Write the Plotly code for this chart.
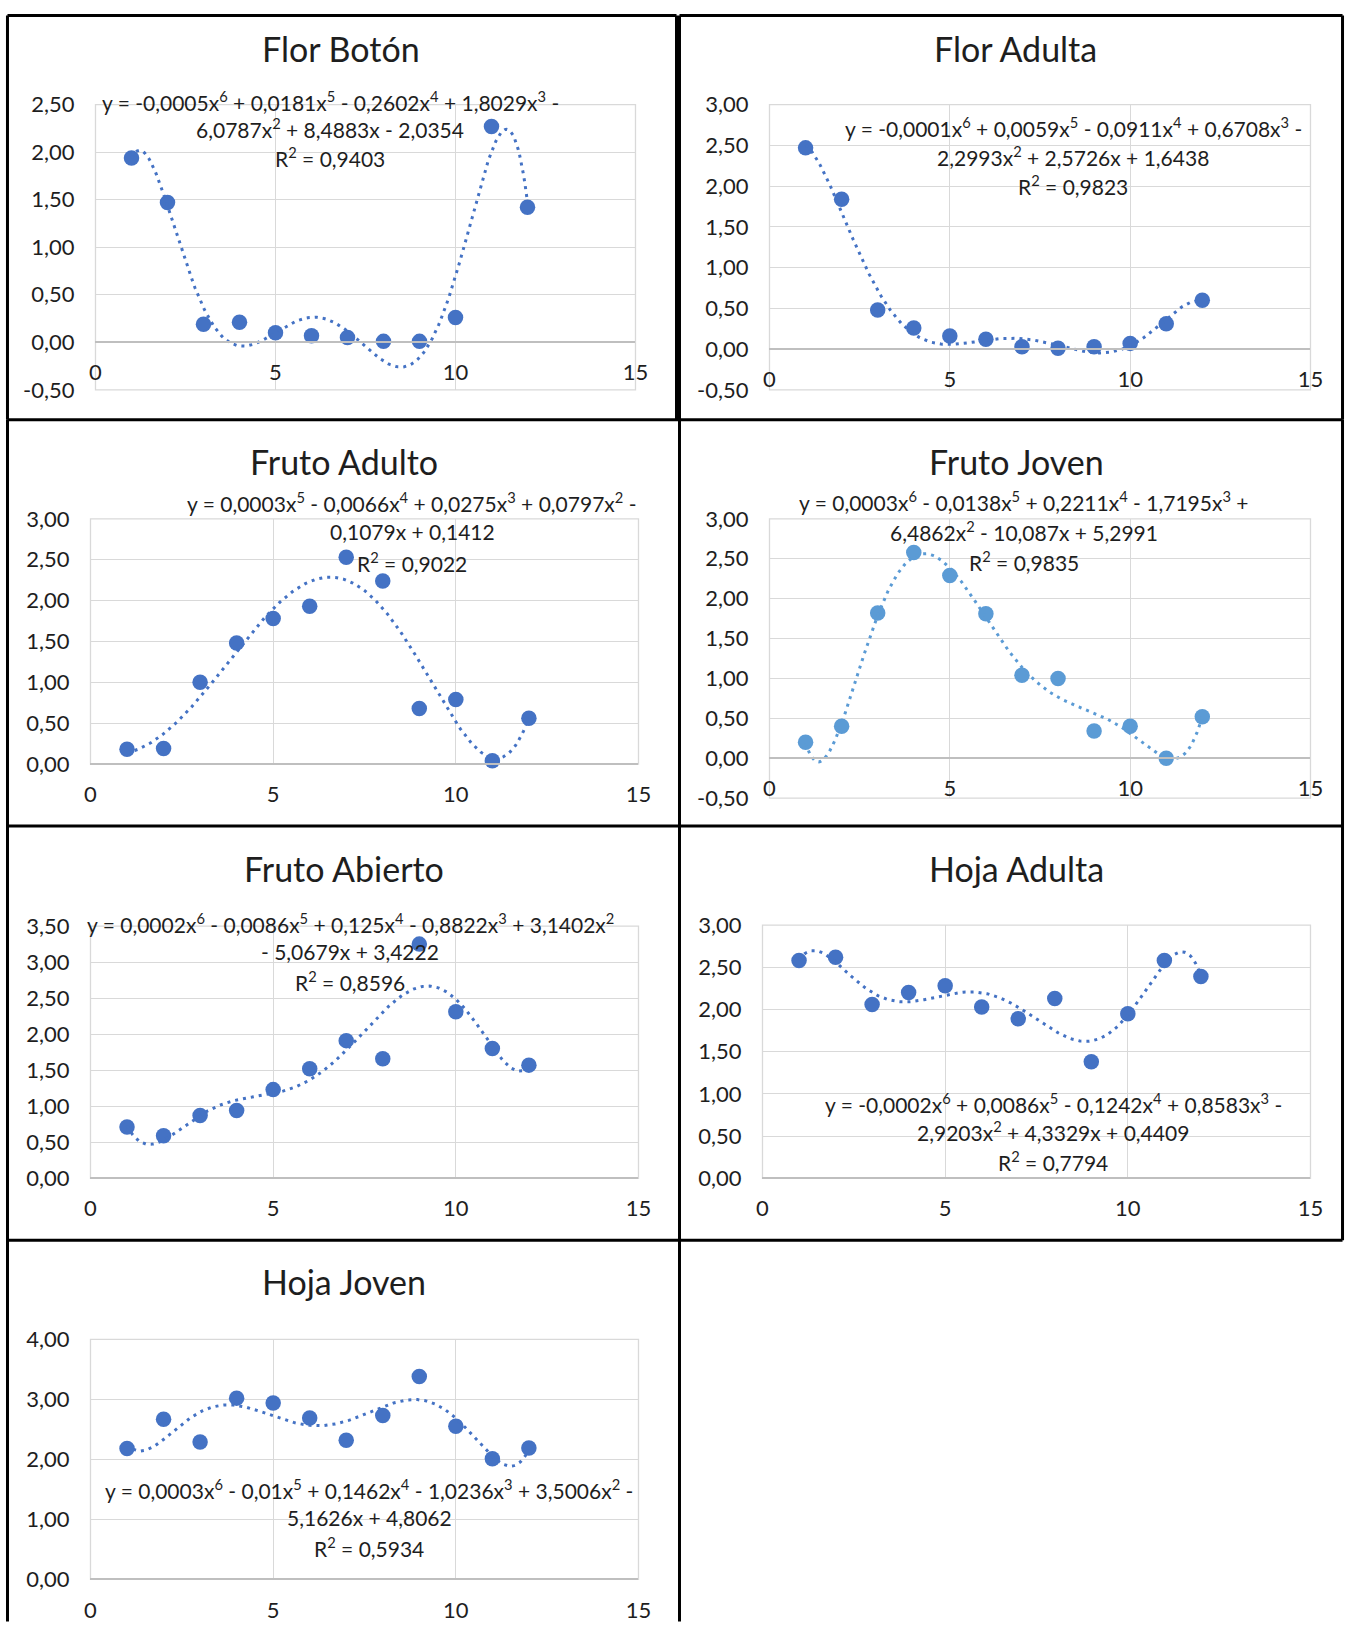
import numpy as np
import plotly.graph_objects as go

W, H = 1357, 1635
# the photographed page shows content slightly scaled and shifted;
# positions below are the wanted on-photo pixel positions and are mapped back.
SCX, SCY = 0.986, 0.983
BX, BY = 6.5, 13.35

# ---------------- data ----------------
x_vals = list(range(1, 13))

titles = ["Flor Botón", "Flor Adulta", "Fruto Adulto", "Fruto Joven",
          "Fruto Abierto", "Hoja Adulta", "Hoja Joven"]

flor_boton   = [1.94, 1.47, 0.19, 0.21, 0.10, 0.07, 0.05, 0.01, 0.01, 0.26, 2.27, 1.42]
flor_adulta  = [2.47, 1.84, 0.48, 0.26, 0.16, 0.12, 0.03, 0.01, 0.03, 0.07, 0.31, 0.60]
fruto_adulto = [0.18, 0.19, 1.00, 1.48, 1.78, 1.93, 2.53, 2.24, 0.68, 0.79, 0.04, 0.56]
fruto_joven  = [0.20, 0.40, 1.82, 2.58, 2.29, 1.81, 1.04, 1.00, 0.34, 0.40, 0.00, 0.52]
fruto_abierto = [0.71, 0.59, 0.87, 0.94, 1.23, 1.52, 1.91, 1.66, 3.25, 2.31, 1.80, 1.57]
hoja_adulta  = [2.58, 2.62, 2.06, 2.20, 2.28, 2.03, 1.89, 2.13, 1.38, 1.95, 2.58, 2.39]
hoja_joven   = [2.18, 2.67, 2.29, 3.02, 2.94, 2.69, 2.32, 2.73, 3.38, 2.55, 2.01, 2.19]

series = [flor_boton, flor_adulta, fruto_adulto, fruto_joven,
          fruto_abierto, hoja_adulta, hoja_joven]

trend_degree = [6, 6, 5, 6, 6, 6, 6]

y_min = [-0.5, -0.5, 0.0, -0.5, 0.0, 0.0, 0.0]
y_max = [2.5, 3.0, 3.0, 3.0, 3.5, 3.0, 4.0]
y_step = [0.5, 0.5, 0.5, 0.5, 0.5, 0.5, 1.0]
x_ticks = [0, 5, 10, 15]

equations = [
    ["y = -0,0005x<sup>6</sup> + 0,0181x<sup>5</sup> - 0,2602x<sup>4</sup> + 1,8029x<sup>3</sup> -",
     "6,0787x<sup>2</sup> + 8,4883x - 2,0354", "R<sup>2</sup> = 0,9403"],
    ["y = -0,0001x<sup>6</sup> + 0,0059x<sup>5</sup> - 0,0911x<sup>4</sup> + 0,6708x<sup>3</sup> -",
     "2,2993x<sup>2</sup> + 2,5726x + 1,6438", "R<sup>2</sup> = 0,9823"],
    ["y = 0,0003x<sup>5</sup> - 0,0066x<sup>4</sup> + 0,0275x<sup>3</sup> + 0,0797x<sup>2</sup> -",
     "0,1079x + 0,1412", "R<sup>2</sup> = 0,9022"],
    ["y = 0,0003x<sup>6</sup> - 0,0138x<sup>5</sup> + 0,2211x<sup>4</sup> - 1,7195x<sup>3</sup> +",
     "6,4862x<sup>2</sup> - 10,087x + 5,2991", "R<sup>2</sup> = 0,9835"],
    ["y = 0,0002x<sup>6</sup> - 0,0086x<sup>5</sup> + 0,125x<sup>4</sup> - 0,8822x<sup>3</sup> + 3,1402x<sup>2</sup>",
     "- 5,0679x + 3,4222", "R<sup>2</sup> = 0,8596"],
    ["y = -0,0002x<sup>6</sup> + 0,0086x<sup>5</sup> - 0,1242x<sup>4</sup> + 0,8583x<sup>3</sup> -",
     "2,9203x<sup>2</sup> + 4,3329x + 0,4409", "R<sup>2</sup> = 0,7794"],
    ["y = 0,0003x<sup>6</sup> - 0,01x<sup>5</sup> + 0,1462x<sup>4</sup> - 1,0236x<sup>3</sup> + 3,5006x<sup>2</sup> -",
     "5,1626x + 4,8062", "R<sup>2</sup> = 0,5934"],
]

# ---------------- layout (wanted photo pixels) ----------------
plot_x = [(96, 636), (770, 1311), (91, 639), (770, 1311), (91, 639), (763, 1311), (91, 639)]
plot_y = [(104, 389), (104, 389), (518, 763), (518, 797), (925, 1177), (924, 1177), (1338, 1578)]
title_pos = [(342, 50), (1016, 50), (345, 463), (1017, 463), (345, 870), (1017, 870), (345, 1283)]
TITLE_DY = -2.5
eq_x = [331, 1074, 413, 1025, 351, 1054, 370]
eq_y = [(104, 131, 160), (130, 159, 188), (505, 534, 564), (504, 533, 563),
        (925, 954, 983), (1105, 1133, 1163), (1491, 1520, 1549)]
EQ_DY = -3.4
colors = ["#4472C4", "#4472C4", "#4472C4", "#5B9BD5", "#4472C4", "#4472C4", "#4472C4"]

FONT = "Lato"
TXT = "#1e1e1e"


def pgx(t):
    return (t - BX) / SCX


def pgy(t):
    return (t - BY) / SCY


def fx(t):
    return pgx(t) / W


def fy(t):
    return 1 - pgy(t) / H


def bfx(t):
    return min(max(pgx(t), 1.5), W - 1.5) / W


def bfy(t):
    return 1 - min(max(pgy(t), 1.5), H - 0.5) / H


fig = go.Figure()
layout = dict(
    width=W, height=H, margin=dict(l=0, r=0, t=0, b=0),
    paper_bgcolor="white", plot_bgcolor="white", showlegend=False,
    font=dict(family=FONT, color=TXT, size=22),
)
annotations = []
shapes = []

for i in range(7):
    n = "" if i == 0 else str(i + 1)
    xa, ya = "x" + n, "y" + n
    xd = [fx(plot_x[i][0]), fx(plot_x[i][1])]
    yd = [fy(plot_y[i][1]), fy(plot_y[i][0])]
    ylo, yhi = y_min[i], y_max[i]
    nt = int(round((yhi - ylo) / y_step[i]))
    yt = [round(ylo + k * y_step[i], 2) for k in range(nt + 1)]
    ytxt = [f"{v:.2f}".replace(".", ",") for v in yt]
    zero_pos = yd[0] + (0 - ylo) / (yhi - ylo) * (yd[1] - yd[0])

    layout["xaxis" + n] = dict(
        domain=xd, range=[0, 15], anchor="free", position=zero_pos,
        tickmode="array", tickvals=x_ticks, ticktext=[str(v) for v in x_ticks],
        showgrid=True, gridcolor="#D9D9D9", gridwidth=1.3,
        zeroline=False, showline=True, linecolor="#BFBFBF", linewidth=1.5,
        ticks="", ticklabelstandoff=11,
        tickfont=dict(family=FONT, size=22, color=TXT), fixedrange=True,
    )
    layout["yaxis" + n] = dict(
        domain=yd, range=[ylo, yhi], anchor=xa,
        tickmode="array", tickvals=yt, ticktext=ytxt,
        showgrid=True, gridcolor="#D9D9D9", gridwidth=1.3,
        zeroline=False, showline=False, ticks="", ticklabelstandoff=20,
        tickfont=dict(family=FONT, size=22, color=TXT), fixedrange=True,
    )
    shapes.append(dict(type="rect", xref=xa + " domain", yref=ya + " domain",
                       x0=0, x1=1, y0=0, y1=1, line=dict(color="#D9D9D9", width=1.3),
                       layer="below"))

    ys = series[i]
    fig.add_trace(go.Scatter(
        x=x_vals, y=ys, mode="markers", xaxis=xa, yaxis=ya,
        marker=dict(size=15.5, color=colors[i]), cliponaxis=False,
    ))
    coef = np.polyfit(x_vals, ys, trend_degree[i])
    xt = np.linspace(min(x_vals), max(x_vals), 300)
    fig.add_trace(go.Scatter(
        x=xt, y=np.polyval(coef, xt), mode="lines", xaxis=xa, yaxis=ya,
        line=dict(color=colors[i], width=3, dash="3px,5px"), hoverinfo="skip",
    ))

    annotations.append(dict(
        text=titles[i], xref="paper", yref="paper",
        x=fx(title_pos[i][0]), y=fy(title_pos[i][1] + TITLE_DY),
        xanchor="center", yanchor="middle", showarrow=False,
        font=dict(family=FONT, size=34, color=TXT),
    ))
    for k in range(3):
        annotations.append(dict(
            text=equations[i][k], xref="paper", yref="paper",
            x=fx(eq_x[i]), y=fy(eq_y[i][k] + EQ_DY),
            xanchor="center", yanchor="middle", showarrow=False,
            font=dict(family=FONT, size=21, color=TXT),
        ))

# panel frames
BL = dict(color="black", width=3)


def hline(x0, x1, y):
    shapes.append(dict(type="line", xref="paper", yref="paper",
                       x0=bfx(x0), x1=bfx(x1), y0=bfy(y), y1=bfy(y), line=BL))


def vline(x, y0, y1):
    shapes.append(dict(type="line", xref="paper", yref="paper",
                       x0=bfx(x), x1=bfx(x), y0=bfy(y0), y1=bfy(y1), line=BL))


hline(5, 677, 5)
hline(680, 1353, 5)
vline(5, 5, 419)
vline(677, 5, 419)
vline(680, 5, 419)
vline(1353, 5, 419)
hline(5, 1353, 419)
hline(8, 1353, 825)
hline(8, 1353, 1239)
vline(8, 419, 1660)
vline(680, 419, 1660)
vline(1353, 419, 1239)

layout["annotations"] = annotations
layout["shapes"] = shapes
fig.update_layout(**layout)

fig.write_html("out.html", config={"displayModeBar": False},
               post_script="document.documentElement.style.margin='0';"
                           "document.body.style.margin='0';"
                           "document.body.style.overflow='hidden';")
